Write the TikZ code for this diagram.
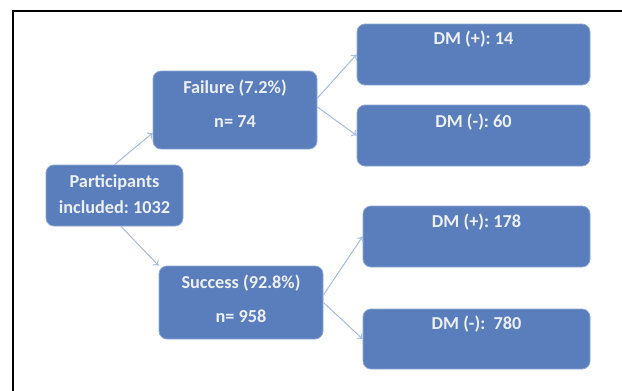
\documentclass[tikz,border=0pt]{standalone}
\usepackage{fontspec}
\setmainfont{Carlito}
\usetikzlibrary{arrows.meta,calc}
\definecolor{boxfill}{HTML}{5A7EBC}
\definecolor{boxline}{HTML}{8EA8D4}
\definecolor{arrowc}{HTML}{A6BCE0}
\definecolor{txt}{HTML}{ECEFF4}
\frenchspacing
\tikzset{
  x=0.75pt, y=-0.75pt,
  box/.style={draw=boxline, line width=0.6pt, fill=boxfill, rounded corners=6pt, inner sep=0pt},
  lbl/.style={anchor=base, inner sep=0pt, text=txt, font=\fontsize{13.7pt}{16pt}\selectfont\bfseries},
  conn/.style={draw=arrowc, line width=0.75pt, -{To[length=3.5pt,width=6pt]}}
}
\begin{document}
\begin{tikzpicture}
\useasboundingbox (0,0) rectangle (622,390);
\fill[white] (0,0) rectangle (622,390);
\draw[line width=1.1pt, black] (13,392) -- (13,11) -- (624,11);

\node[box, minimum width=102.75pt, minimum height=45.75pt] (P) at (114.5,195.5) {};
\node[box, minimum width=123pt, minimum height=58.5pt] (F) at (235,110) {};
\node[box, minimum width=123pt, minimum height=54.75pt] (S) at (241,302.5) {};
\node[box, minimum width=174.75pt, minimum height=45.75pt] (D1) at (473.5,54.5) {};
\node[box, minimum width=174.75pt, minimum height=45.75pt] (D2) at (473.5,135.5) {};
\node[box, minimum width=170.25pt, minimum height=45.75pt] (D3) at (476.5,236.5) {};
\node[box, minimum width=170.25pt, minimum height=45pt] (D4) at (476.5,339) {};

\node[lbl] (p1) at (114.5,187) {Participants};
\node[lbl] (p2) at (114.5,213) {included: 1032};
\node[lbl] (f1) at (235,93) {Failure (7.2\%)};
\node[lbl] (f2) at (235,127) {n= 74};
\node[lbl] (s1) at (241,288) {Success (92.8\%)};
\node[lbl] (s2) at (241,322) {n= 958};
\node[lbl] (d1) at (473.5,44.5) {DM (+): 14};
\node[lbl] (d2) at (473.5,127) {DM (-): 60};
\node[lbl] (d3) at (476.5,227) {DM (+): 178};
\node[lbl] (d4) at (476.5,329) {DM (-):\ \ 780};

\draw[conn] (P.north) -- ($(F.west)+(0,23)$);
\draw[conn] ($(P.south)+(6.5,0)$) -- (S.north west);
\draw[conn] ($(F.east)+(0,-12)$) -- (D1.west);
\draw[conn] ($(F.east)+(0,-3)$) -- (D2.west);
\draw[conn] ($(S.east)+(0,-7.5)$) -- (D3.west);
\draw[conn] (S.east) -- (D4.west);
\end{tikzpicture}
\end{document}
